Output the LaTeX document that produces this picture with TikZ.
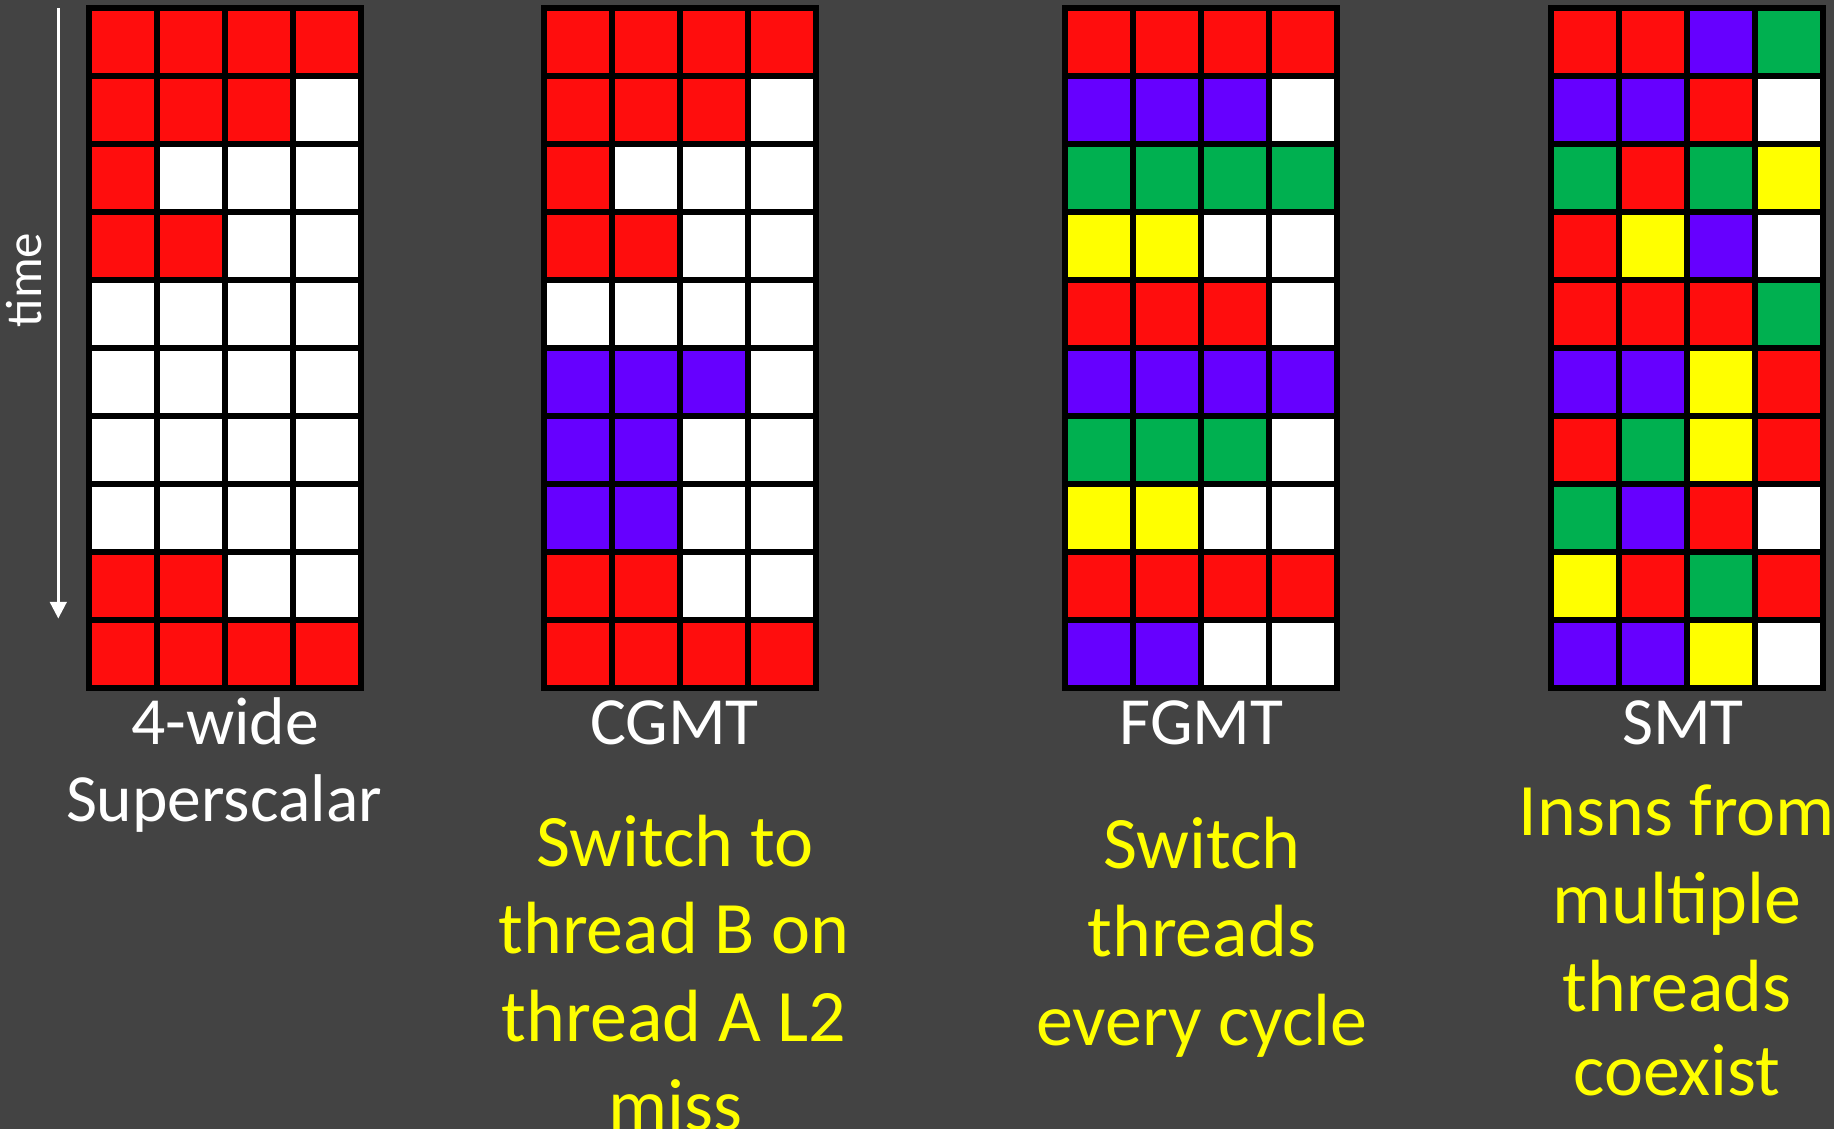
\documentclass[tikz,border=0pt]{standalone}
\usepackage{fontspec}
\setmainfont{Carlito}
\usetikzlibrary{arrows.meta}
\definecolor{bg}{HTML}{434343}
\definecolor{cR}{HTML}{FF0D0D}
\definecolor{cP}{HTML}{6600FF}
\definecolor{cG}{HTML}{00B050}
\definecolor{cY}{HTML}{FFFF00}
\definecolor{cW}{HTML}{FFFFFF}
\newcommand\issuegrid[2]{%
  \fill[black] (#1,5) rectangle ++(278.3,685.5);
  \foreach \rowlist [count=\j from 0] in {#2} {
    \foreach \c [count=\i from 0] in \rowlist {
      \fill[c\c] (#1+6.3+68*\i, 11.3+68*\j) rectangle ++(61.7,61.3);
    }
  }%
}
\begin{document}
\begin{tikzpicture}[x=1pt,y=-1pt,
  lab/.style={text=white, anchor=base, inner sep=0pt, font=\fontsize{67.5}{78}\selectfont},
  note/.style={text=cY, anchor=base, inner sep=0pt, font=\fontsize{74}{88}\selectfont},
  timearrow/.style={draw=white, line width=2.7pt, -{Triangle[width=16.7pt,length=16.7pt]}}]
\useasboundingbox (0,0) rectangle (1834,1129);
\fill[bg] (0,0) rectangle (1834,1129);

% grids
\issuegrid{86}{{R,R,R,R},{R,R,R,W},{R,W,W,W},{R,R,W,W},{W,W,W,W},{W,W,W,W},{W,W,W,W},{W,W,W,W},{R,R,W,W},{R,R,R,R}}
\issuegrid{540.7}{{R,R,R,R},{R,R,R,W},{R,W,W,W},{R,R,W,W},{W,W,W,W},{P,P,P,W},{P,P,W,W},{P,P,W,W},{R,R,W,W},{R,R,R,R}}
\issuegrid{1061.7}{{R,R,R,R},{P,P,P,W},{G,G,G,G},{Y,Y,W,W},{R,R,R,W},{P,P,P,P},{G,G,G,W},{Y,Y,W,W},{R,R,R,R},{P,P,W,W}}
\issuegrid{1547.7}{{R,R,P,G},{P,P,R,W},{G,R,G,Y},{R,Y,P,W},{R,R,R,G},{P,P,Y,R},{R,G,Y,R},{G,P,R,W},{Y,R,G,R},{P,P,Y,W}}

% time arrow
\coordinate (tstart) at (58.3,8);
\coordinate (tend) at (58.3,618.5);
\draw[timearrow] (tstart) -- (tend);
\node[rotate=90, anchor=base, inner sep=0pt, text=white, font=\fontsize{51}{60}\selectfont] (time) at (41.7,280) {time};

% labels
\node[lab] (l1a) at (225,744.3) {4-wide};
\node[lab] (l1b) at (224,821.7) {Superscalar};
\node[lab] (l2) at (674.5,744) {CGMT};
\node[lab] (l3) at (1201.7,744) {FGMT};
\node[lab] (l4) at (1683,744) {SMT};

% notes
\node[note] (n2a) at (675,866) {Switch to};
\node[note] (n2b) at (674,953.3) {thread B on};
\node[note] (n2c) at (674,1041.7) {thread A L2};
\node[note] (n2d) at (675,1130) {miss};
\node[note] (n3a) at (1201.7,868.3) {Switch};
\node[note] (n3b) at (1201.7,956.7) {threads};
\node[note] (n3c) at (1201.7,1045) {every cycle};
\node[note] (n4a) at (1677,835) {Insns from};
\node[note] (n4b) at (1677,923.3) {multiple};
\node[note] (n4c) at (1677,1011.7) {threads};
\node[note] (n4d) at (1677,1095) {coexist};
\end{tikzpicture}
\end{document}
